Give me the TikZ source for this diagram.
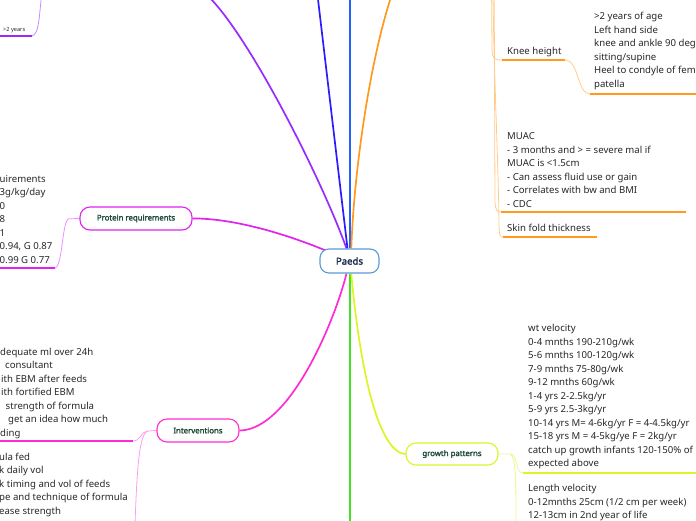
\documentclass[tikz,border=0pt]{standalone}
\usepackage{fontspec}
\setmainfont{Noto Sans}[AutoFakeBold=2.2]
\usetikzlibrary{backgrounds}
\definecolor{txt}{HTML}{262626}
\definecolor{ntxt}{HTML}{1E4A38}
\definecolor{ptxt}{HTML}{1B2A4C}
\definecolor{pbord}{HTML}{5A9AD6}
\definecolor{purp}{HTML}{9A2BFF}
\definecolor{purpL}{HTML}{C48CFF}
\definecolor{blueA}{HTML}{2A1CFF}
\definecolor{blueB}{HTML}{1F62FF}
\definecolor{orng}{HTML}{FF9A1E}
\definecolor{orngL}{HTML}{FFCC8A}
\definecolor{magA}{HTML}{E024EC}
\definecolor{magL}{HTML}{EE90FF}
\definecolor{pinkA}{HTML}{FF2CD2}
\definecolor{pinkL}{HTML}{FF9CEC}
\definecolor{grn}{HTML}{44E024}
\definecolor{ylw}{HTML}{DCF524}
\definecolor{ylwL}{HTML}{EAF88E}
\begin{document}
\begin{tikzpicture}[x=1pt,y=-1pt,
  topic/.style={draw, rounded corners=10pt, line width=1.1pt, fill=white, inner sep=0pt,
    font=\fontsize{7.8}{9}\selectfont\bfseries, text=ntxt},
  body/.style={anchor=west, align=left, inner sep=0pt,
    font=\fontsize{9.6}{13.5}\selectfont, text=txt},
  bline/.style={anchor=base west, inner sep=0pt,
    font=\fontsize{9.6}{13.5}\selectfont, text=txt},
  trunk/.style={line width=1.7pt},
  twig/.style={line width=0.8pt},
  under/.style={line width=1.5pt}]
\useasboundingbox (0,0) rectangle (696,520);
\clip (0,0) rectangle (696,520);

% ---------- topic nodes ----------
\node[topic, draw=pbord, text=ptxt, rounded corners=9pt, minimum width=59pt, minimum height=24pt,
  font=\fontsize{9.6}{11}\selectfont\bfseries] (paeds) at (349.5,261) {Paeds};
\node[topic, draw=magA, minimum width=112pt, minimum height=23pt] (protein) at (136,218.5) {Protein requirements};
\node[topic, draw=pinkA, minimum width=82pt, minimum height=23pt] (interv) at (198,430.5) {Interventions};
\node[topic, draw=ylw, minimum width=92pt, minimum height=22pt] (growth) at (452,454) {growth patterns};

% ---------- text nodes ----------
\node[inner sep=0pt, anchor=west, font=\fontsize{5.6}{7}\selectfont, text=txt] (yrs) at (3,30) {>2 years};
\node[body] (protTxt) at (-0.5,219.5) {uirements\\3g/kg/day\\0\\8\\1\\0.94, G 0.87\\0.99 G 0.77};
\node[bline] (iu1) at (0,355) {dequate ml over 24h};
\node[bline] (iu2) at (5,368.5) {consultant};
\node[bline] (iu3) at (1,382) {ith EBM after feeds};
\node[bline] (iu4) at (1,395.5) {ith fortified EBM};
\node[bline] (iu5) at (5.5,409) {strength of formula};
\node[bline] (iu6) at (8,422.5) {get an idea how much};
\node[bline] (iu7) at (0,436) {ding};
\node[body] (intLo) at (-1,484.5) {ula fed\\k daily vol\\k timing and vol of feeds\\pe and technique of formula\\ease strength};
\node[body] (knee) at (507,52) {Knee height};
\node[body] (kneeTxt) at (594,51) {>2 years of age\\Left hand side\\knee and ankle 90 deg\\sitting/supine\\Heel to condyle of fem\\patella};
\node[body] (muac) at (507,170) {MUAC\\- 3 months and > = severe mal if\\MUAC is <1.5cm\\- Can assess fluid use or gain\\- Correlates with bw and BMI\\- CDC};
\node[body] (skin) at (507,228) {Skin fold thickness};
\node[body] (wtv) at (528,396.5) {wt velocity\\0-4 mnths 190-210g/wk\\5-6 mnths 100-120g/wk\\7-9 mnths 75-80g/wk\\9-12 mnths 60g/wk\\1-4 yrs 2-2.5kg/yr\\5-9 yrs 2.5-3kg/yr\\10-14 yrs M= 4-6kg/yr F = 4-4.5kg/yr\\15-18 yrs M = 4-5kg/ye F = 2kg/yr\\catch up growth infants 120-150\% of\\expected above};
\node[body] (lenv) at (528,502.5) {Length velocity\\0-12mnths 25cm (1/2 cm per week)\\12-13cm in 2nd year of life};

% ---------- free ends ----------
\coordinate (purpEnd) at (208,-4);
\coordinate (blueEnd) at (317.6,-4);
\coordinate (lbEnd) at (350.3,-4);
\coordinate (orEnd) at (392,-6);
\coordinate (grEnd) at (350.3,524);
\coordinate (yrsU1) at (32,36);
\coordinate (yrsU2) at (-3,36);
\coordinate (yrsTop) at (41.5,-4);
\coordinate (protJ) at (69,218.8);
\coordinate (protU1) at (55,268);
\coordinate (protU2) at (-3,268);
\coordinate (intJ) at (148,431);
\coordinate (intU1) at (133,441);
\coordinate (intU2) at (-3,441);
\coordinate (intDown) at (135,524);
\coordinate (grJ) at (510,454);
\coordinate (grU1) at (523,473);
\coordinate (grU2) at (700,473);
\coordinate (grDown) at (516,524);
\coordinate (oTop1) at (491.6,-5);
\coordinate (oTop2) at (494.2,-5);
\coordinate (oTop3) at (493,-5);
\coordinate (kneeU1) at (502,60);
\coordinate (kneeU2) at (565,60);
\coordinate (kneeS1) at (590,94);
\coordinate (kneeS2) at (700,94);
\coordinate (muU1) at (501,212);
\coordinate (muU2) at (686,212);
\coordinate (skU1) at (503,237);
\coordinate (skU2) at (597,237);

% ---------- connectors ----------
\begin{pgfonlayer}{background}
\draw[trunk, purp] ([xshift=-3pt]paeds.north) .. controls (322,180) and (250,37) .. (purpEnd);
\draw[trunk, blueA] ([xshift=-2pt]paeds.north) -- (blueEnd);
\draw[trunk, blueB] ([xshift=0.8pt]paeds.north) -- (lbEnd);
\draw[trunk, orng] ([xshift=1.8pt]paeds.north) .. controls (354,170) and (370,60) .. (orEnd);
\draw[trunk, magA] (protein.east) .. controls (232,218) and (292,234) .. (paeds.center);
\draw[trunk, pinkA] (interv.east) .. controls (290,430) and (335,320) .. ([xshift=-3pt]paeds.south);
\draw[trunk, grn] ([xshift=0.8pt]paeds.south) -- (grEnd);
\draw[trunk, ylw] ([xshift=1.8pt]paeds.south) .. controls (358,350) and (375,452) .. (growth.west);

% top-left
\draw[twig, purpL] (yrsU1) .. controls (39,34) and (39,18) .. (yrsTop);
\draw[under, purp] (yrsU1) -- (yrsU2);

% protein
\draw[twig, magL] (protein.west) -- (protJ) .. controls (62,219) and (63,266) .. (protU1);
\draw[under, magA] (protU1) -- (protU2);

% interventions
\draw[twig, pinkL] (interv.west) -- (intJ) .. controls (141,431) and (141,441) .. (intU1);
\draw[twig, pinkL] (intJ) .. controls (139,433) and (137,470) .. (intDown);
\draw[under, pinkA] (intU1) -- (intU2);

% growth
\draw[twig, ylwL] (growth.east) -- (grJ) .. controls (518,454) and (515,473) .. (grU1);
\draw[twig, ylwL] (grJ) .. controls (516,457) and (516,480) .. (grDown);
\draw[under, ylw] (grU1) -- (grU2);

% orange family
\draw[twig, orngL] (oTop1) -- (492,50) .. controls (492.5,58) and (494,60) .. (kneeU1);
\draw[under, orng] (kneeU1) -- (kneeU2);
\draw[twig, orngL] (kneeU2) .. controls (579,60) and (577,94) .. (kneeS1);
\draw[under, orng] (kneeS1) -- (kneeS2);
\draw[twig, orngL] (oTop2) -- (495,202) .. controls (495.5,210) and (497,212) .. (muU1);
\draw[under, orng] (muU1) -- (muU2);
\draw[twig, orngL] (oTop3) .. controls (494,80) and (499,180) .. (499,228) .. controls (499.5,235) and (500,237) .. (skU1);
\draw[under, orng] (skU1) -- (skU2);
\end{pgfonlayer}
\end{tikzpicture}
\end{document}
